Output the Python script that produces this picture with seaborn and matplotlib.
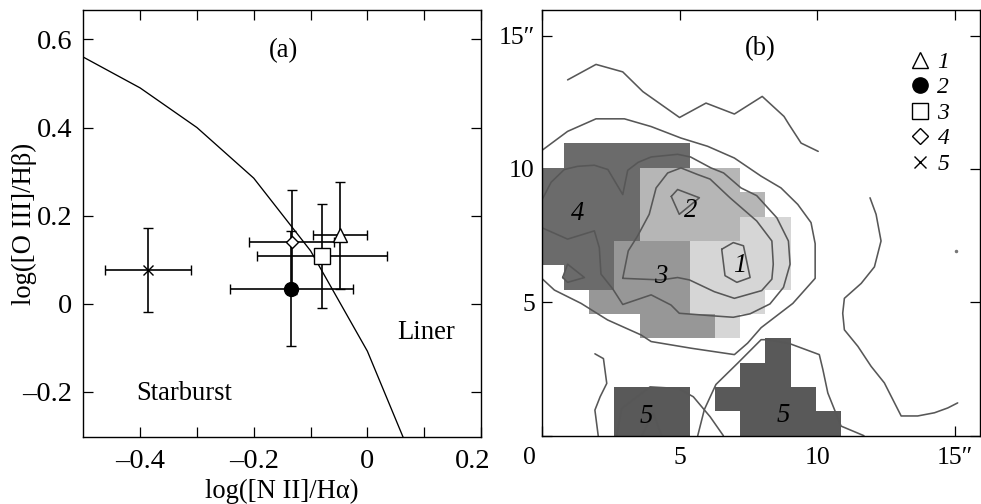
import numpy as np
import matplotlib
matplotlib.use("Agg")
import matplotlib.pyplot as plt
import seaborn as sns
from matplotlib.colors import ListedColormap, BoundaryNorm
from matplotlib.lines import Line2D
from matplotlib.transforms import ScaledTranslation

# ---------------- data: panel (a) ----------------
point_ids = ["1", "2", "3", "4", "5"]
nii_ha = [-0.048, -0.134, -0.080, -0.133, -0.386]
oiii_hb = [0.155, 0.034, 0.108, 0.140, 0.076]
nii_err = [0.047, 0.108, 0.114, 0.075, 0.076]
oiii_err = [0.121, 0.130, 0.118, 0.118, 0.096]
point_markers = ["^", "o", "s", "D", "x"]

curve_x = [-0.5, -0.4, -0.3, -0.2, -0.1, 0.0, 0.065]
curve_y = [0.56, 0.49, 0.40, 0.285, 0.12, -0.108, -0.31]

a_xticks = [-0.4, -0.3, -0.2, -0.1, 0.0, 0.1, 0.2]
a_xticklabels = ["\u20130.4", "", "\u20130.2", "", "0", "", "0.2"]
a_yticks = [-0.2, 0.0, 0.2, 0.4, 0.6]
a_yticklabels = ["\u20130.2", "0", "0.2", "0.4", "0.6"]

# ---------------- data: panel (b) ----------------
# region index map, rows listed from top (row 11) to bottom (row 0)
region_rows = [
    [0, 4, 4, 4, 4, 4, 0, 0, 0, 0, 0, 0],
    [4, 4, 4, 4, 2, 2, 2, 2, 0, 0, 0, 0],
    [4, 4, 4, 4, 2, 2, 2, 2, 2, 0, 0, 0],
    [4, 4, 4, 4, 2, 2, 2, 2, 1, 1, 0, 0],
    [4, 4, 4, 3, 3, 3, 1, 1, 1, 1, 0, 0],
    [0, 4, 4, 3, 3, 3, 1, 1, 1, 1, 0, 0],
    [0, 0, 3, 3, 3, 3, 1, 1, 1, 0, 0, 0],
    [0, 0, 0, 0, 3, 3, 3, 1, 0, 0, 0, 0],
    [0, 0, 0, 0, 0, 0, 0, 0, 0, 5, 0, 0],
    [0, 0, 0, 0, 0, 0, 0, 0, 5, 5, 0, 0],
    [0, 0, 0, 5, 5, 5, 0, 5, 5, 5, 5, 0],
    [0, 0, 0, 5, 5, 5, 0, 0, 5, 5, 5, 5],
]
CELL = 0.913
GRID_X0 = -0.1
region_colors = ["#d6d6d6", "#b6b6b6", "#979797", "#6b6b6b", "#595959"]

contours = {
    "A": ([0.94, 1.97, 2.94, 3.67, 5.0, 5.96, 6.99, 8.0, 8.79, 8.97, 9.41, 10.03],
          [13.34, 13.92, 13.64, 12.9, 11.93, 12.47, 12.06, 12.72, 11.97, 11.67, 10.97, 10.66]),
    "B": ([0.04, 0.94, 1.97, 3.0, 3.97, 5.05, 6.02, 6.99, 7.96, 8.68, 9.29, 9.77, 9.92, 9.92,
           9.11, 7.96, 7.47, 6.99, 5.42, 3.97, 3.6, 2.39, 1.43, 0.46, 0.0],
          [10.72, 11.41, 11.88, 11.88, 11.59, 11.16, 10.85, 10.41, 9.73, 9.29, 8.67, 7.99, 7.2, 5.9,
           4.96, 4.05, 3.47, 3.04, 3.28, 3.53, 3.78, 4.34, 4.96, 5.46, 5.9]),
    "D": ([0.04, 0.34, 0.82, 1.31, 1.91, 2.4, 2.94, 3.12, 3.5, 3.97, 4.93, 5.4, 6.14, 6.6, 7.23,
           7.8, 8.53, 8.95, 9.01, 8.77, 8.28, 7.56, 6.95, 6.26, 4.99, 4.69, 3.97, 2.94, 2.58,
           2.15, 2.09, 1.91, 0.94, 0.0],
          [8.9, 9.5, 9.98, 10.1, 10.14, 9.98, 9.04, 9.95, 10.25, 10.45, 10.55, 10.45, 10.04, 9.85,
           9.29, 9.0, 8.17, 7.3, 6.43, 5.56, 4.94, 4.57, 4.44, 4.49, 4.59, 4.9, 5.28, 4.92, 5.5,
           6.06, 7.05, 7.68, 7.37, 7.8]),
    "E2": ([2.94, 3.14, 3.48, 3.9, 4.15, 4.57, 5.05, 5.66, 6.11, 6.83, 7.8, 8.35, 8.4, 8.35,
            7.98, 6.99, 6.26, 5.36, 4.93, 4.33, 2.94],
           [5.9, 6.93, 7.49, 8.3, 9.29, 9.85, 10.04, 9.79, 9.62, 8.92, 8.05, 7.3, 6.43, 5.87,
            5.44, 5.15, 5.4, 5.84, 5.93, 5.84, 5.9]),
    "L2": ([4.7, 4.93, 5.72, 4.99, 4.7], [8.97, 9.23, 8.92, 8.3, 8.97]),
    "L1": ([6.53, 6.95, 7.32, 7.56, 7.08, 6.65, 6.53], [6.99, 7.24, 7.12, 5.93, 5.75, 6.0, 6.99]),
    "L4": ([0.76, 0.94, 1.55, 0.94, 0.76], [5.93, 6.43, 5.93, 5.75, 5.93]),
    "F": ([1.93, 2.24, 2.36, 2.12, 1.93, 2.05], [3.07, 2.89, 1.96, 1.46, 0.96, 0.0]),
    "G": ([2.72, 2.9, 3.93, 4.96, 5.5, 6.11, 6.59], [0.0, 1.02, 1.83, 1.77, 1.46, 0.71, 0.0]),
    "H": ([3.63, 4.05, 4.35], [0.0, 0.84, 0.0]),
    "E": ([5.66, 5.9, 6.32, 7.11, 7.96, 8.2, 9.0, 10.07, 10.2, 10.38, 10.86, 11.69],
          [0.0, 0.98, 1.92, 2.72, 3.6, 3.6, 3.45, 3.04, 2.48, 1.6, 0.36, 0.0]),
    "I": ([11.91, 12.13, 12.31, 12.07, 11.59, 10.98, 10.92, 10.98, 11.47, 11.95, 12.43, 13.04,
           13.64, 14.25, 14.73, 15.09],
          [8.92, 8.3, 7.3, 6.33, 5.71, 5.15, 4.59, 3.97, 3.35, 2.6, 1.98, 0.74,
           0.74, 0.86, 1.04, 1.23]),
}
speck_x = [15.03]
speck_y = [6.93]

region_labels = ["4", "2", "1", "3", "5", "5"]
region_label_x = [1.29, 5.41, 7.17, 4.32, 3.81, 8.75]
region_label_y = [8.09, 8.19, 6.15, 5.71, 0.46, 0.50]

b_xticks = [0, 5, 10, 15]
b_xticklabels = ["0", "5", "10", "15\u2033"]
b_yticks = [0, 5, 10, 15]
b_yticklabels = ["", "5", "10", "15\u2033"]

# ---------------- style ----------------
sns.set_theme(style="white")
plt.rcParams["font.family"] = ["Liberation Serif", "DejaVu Serif"]
for k in ["text.color", "axes.labelcolor", "xtick.color", "ytick.color", "axes.edgecolor"]:
    plt.rcParams[k] = "black"

FS = 19.2
FS_TICK_A = 20.5
FS_TICK_B = 18.5
fig = plt.figure(figsize=(9.81, 5.04), dpi=100)
W, H = 981.0, 504.0
ax1 = fig.add_axes([83.3 / W, (H - 437) / H, (481 - 83.3) / W, (437 - 10) / H])
ax2 = fig.add_axes([541.7 / W, (H - 435.7) / H, (980 - 541.7) / W, (435.7 - 10) / H])

# ---------------- panel (a) ----------------
sns.lineplot(x=curve_x, y=curve_y, sort=False, estimator=None, color="black",
             linewidth=0.95, ax=ax1)
msizes = [10, 10, 11.5, 6.2, 7.7]
fills = ["white", "black", "white", "white", "none"]
for i in range(len(point_ids)):
    ax1.errorbar(nii_ha[i], oiii_hb[i], xerr=nii_err[i], yerr=oiii_err[i],
                 fmt=point_markers[i], color="black", mfc=fills[i], mec="black",
                 ms=msizes[i], mew=1.0, elinewidth=1.2, capsize=3.6, capthick=1.2,
                 zorder=3)
ax1.set_xlim(-0.5, 0.2)
ax1.set_ylim(-0.303, 0.667)
ax1.set_xticks(a_xticks)
ax1.set_xticklabels(a_xticklabels)
ax1.set_yticks(a_yticks)
ax1.set_yticklabels(a_yticklabels)
ax1.set_xlabel("log([N II]/H\u03b1)", fontsize=FS)
ax1.set_ylabel("log([O III]/H\u03b2)", fontsize=FS)
ax1.xaxis.set_label_coords(0.5, -0.099)
ax1.yaxis.set_label_coords(-0.116, 0.5)
ax1.text(-0.148, 0.561, "(a)", fontsize=FS, ha="center", va="baseline")
ax1.text(0.104, -0.080, "Liner", fontsize=FS, ha="center", va="baseline")
ax1.text(-0.322, -0.219, "Starburst", fontsize=FS, ha="center", va="baseline")

# ---------------- panel (b) ----------------
grid = np.array(region_rows, dtype=float)[::-1]
grid = np.ma.masked_where(grid == 0, grid)
x_edges = GRID_X0 + CELL * np.arange(grid.shape[1] + 1)
y_edges = CELL * np.arange(grid.shape[0] + 1)
cmap = ListedColormap(region_colors)
norm = BoundaryNorm([0.5, 1.5, 2.5, 3.5, 4.5, 5.5], cmap.N)
ax2.pcolormesh(x_edges, y_edges, grid, cmap=cmap, norm=norm, shading="flat", zorder=1)

for name, (cx, cy) in contours.items():
    sns.lineplot(x=cx, y=cy, sort=False, estimator=None, color="#575757",
                 linewidth=1.15, ax=ax2, zorder=2)
ax2.plot(speck_x, speck_y, "o", color="#777777", ms=1.5, zorder=2)

for t, x, y in zip(region_labels, region_label_x, region_label_y):
    ax2.text(x, y, t, fontsize=FS, style="italic", ha="center", va="baseline", zorder=4)
ax2.text(7.92, 14.27, "(b)", fontsize=FS, ha="center", va="baseline")

ax2.set_xlim(0, 15.9)
ax2.set_ylim(0, 15.96)
ax2.set_xticks(b_xticks)
ax2.set_xticklabels(b_xticklabels)
ax2.set_yticks(b_yticks)
ax2.set_yticklabels(b_yticklabels)

handles = [
    Line2D([], [], marker="^", ls="none", mfc="white", mec="black", ms=11.5, mew=1.0),
    Line2D([], [], marker="o", ls="none", mfc="black", mec="black", ms=11, mew=1.0),
    Line2D([], [], marker="s", ls="none", mfc="white", mec="black", ms=11.3, mew=1.0),
    Line2D([], [], marker="D", ls="none", mfc="white", mec="black", ms=7.8, mew=1.0),
    Line2D([], [], marker="x", ls="none", color="black", ms=8.4, mew=1.0),
]
leg = ax2.legend(handles, point_ids, loc="upper right", bbox_to_anchor=(0.93, 0.903),
                 frameon=False, prop={"style": "italic", "size": 17}, handlelength=0.75,
                 handletextpad=0.35, labelspacing=0.17, borderaxespad=0, borderpad=0)

for ax in (ax1, ax2):
    ax.tick_params(direction="in", length=7, width=0.9, top=True, right=True,
                   bottom=True, left=True)
    for s in ax.spines.values():
        s.set_linewidth(1.0)
        s.set_color("black")
ax1.tick_params(axis="x", labelsize=FS_TICK_A, pad=8.5)
ax1.tick_params(axis="y", labelsize=FS_TICK_A, pad=8)
ax2.tick_params(axis="x", labelsize=FS_TICK_B, pad=8)
ax2.tick_params(axis="y", labelsize=FS_TICK_B, pad=5)

# shift corner labels as in the original
lab = ax1.get_xticklabels()[-1]
lab.set_transform(lab.get_transform() + ScaledTranslation(-8.5 / 100, 0, fig.dpi_scale_trans))
lab = ax2.get_xticklabels()[0]
lab.set_transform(lab.get_transform() + ScaledTranslation(-12 / 100, 0, fig.dpi_scale_trans))

fig.savefig("out.png", dpi=100)
